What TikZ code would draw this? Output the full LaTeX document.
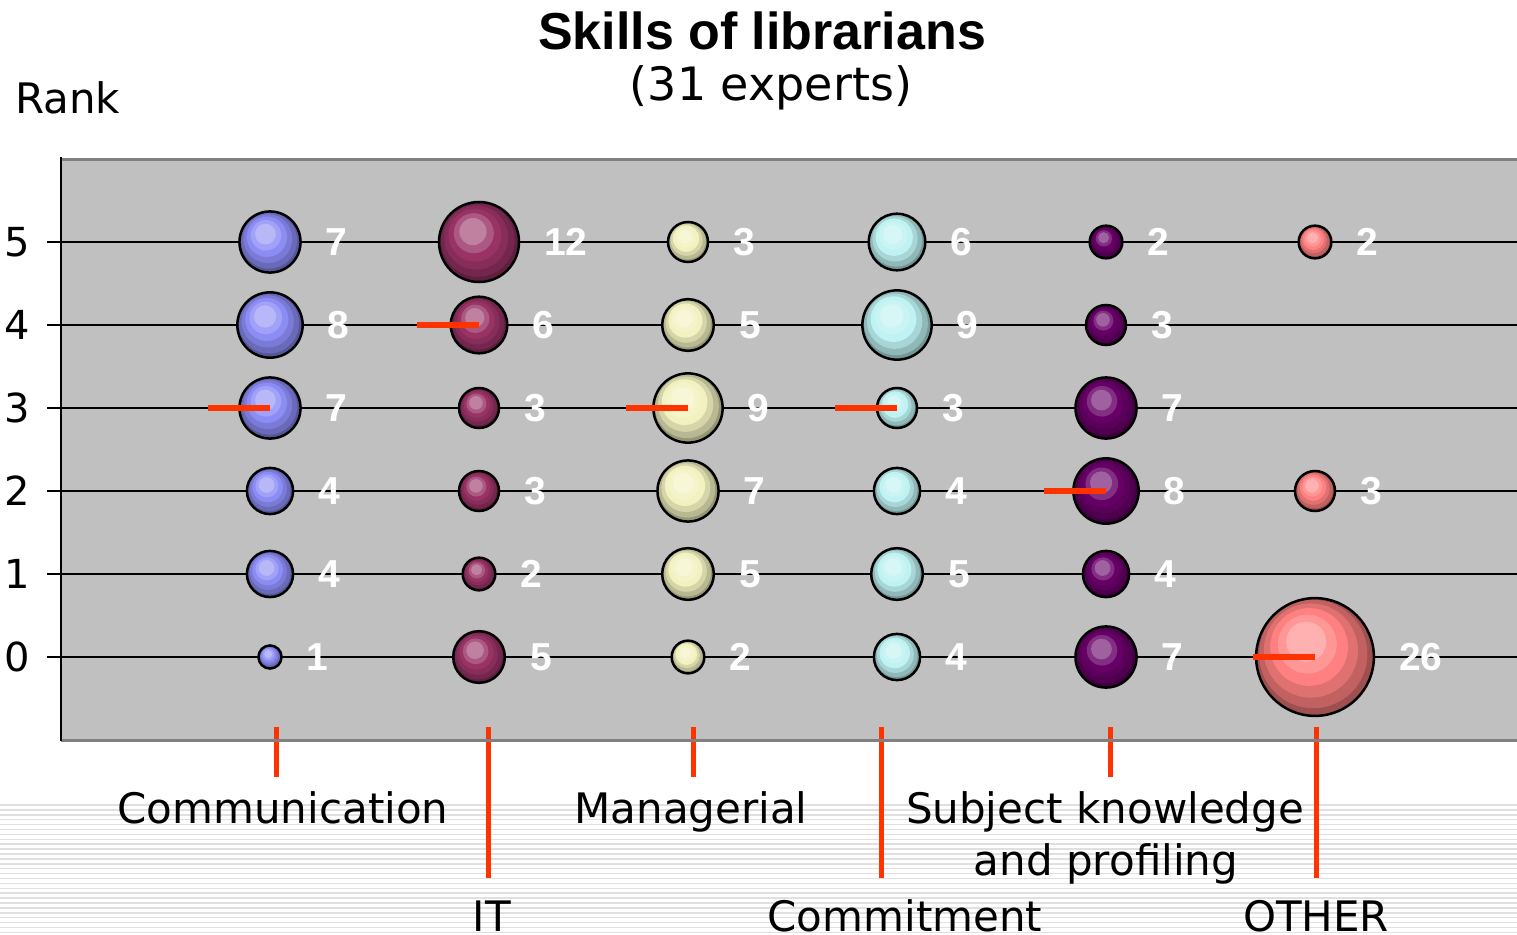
\documentclass[tikz,border=0pt]{standalone}
\usepackage{fontspec}
\setmainfont{DejaVu Sans}
\newfontfamily\arialfont{Liberation Sans}
\definecolor{plotbg}{HTML}{C0C0C0}
\definecolor{framegray}{HTML}{808080}
\definecolor{stripegray}{HTML}{E0E0E0}
\definecolor{medred}{HTML}{FF3300}
\definecolor{cA}{HTML}{8C8CF5}
\definecolor{cB}{HTML}{993366}
\definecolor{cC}{HTML}{F2F2C0}
\definecolor{cD}{HTML}{BFF2F2}
\definecolor{cE}{HTML}{660066}
\definecolor{cF}{HTML}{FF8080}
\tikzset{
  gridline/.style={draw=black, line width=1.3pt},
  medline/.style={draw=medred, line width=6pt},
  catline/.style={draw=medred, line width=5pt},
  catlabel/.style={font=\fontsize{42}{50}\selectfont, anchor=base, inner sep=0pt, align=center},
  numlabel/.style={font=\arialfont\bfseries\fontsize{39}{44}\selectfont, text=white, anchor=west, inner sep=0pt},
  axlabel/.style={font=\fontsize{40}{46}\selectfont, anchor=west, inner sep=0pt},
  bubedge/.style={circle, draw=black, line width=2.5pt, inner sep=0pt, outer sep=0pt},
  stripe/.style={draw=stripegray, line width=1.5pt},
}
\begin{document}
\begin{tikzpicture}[x=1pt,y=-1pt]
\useasboundingbox (0,0) rectangle (1517,934);
% background stripes
\foreach \i in {0,...,26} \draw[stripe] (0,805+\i*4.9) -- (1517,805+\i*4.9);
% plot area
\fill[plotbg] (61,159) rectangle (1517,740);
\foreach \rk in {0,...,5} {
  \draw[gridline] (47,657-83*\rk) -- (1517,657-83*\rk);
  \node[axlabel] (ax\rk) at (4,657-83*\rk) {\rk};
}
% category ticks
\foreach \tx/\ty/\tn in {276/777/A,488/878/B,693/777/C,881/878/D,1110/777/E,1316/878/F}
  \draw[catline] (\tx,727) coordinate (t\tn) -- (\tx,\ty) coordinate (u\tn);
\draw[framegray, line width=3pt] (61,159.5) -- (1517,159.5);
\draw[framegray, line width=3pt] (61,740) -- (1517,740);
\draw[black, line width=2pt] (61,157) -- (61,741);
% bubbles
\foreach \cx/\cc/\cid/\data in {
  270/cA/A/{5/7,4/8,3/7,2/4,1/4,0/1},
  479/cB/B/{5/12,4/6,3/3,2/3,1/2,0/5},
  688/cC/C/{5/3,4/5,3/9,2/7,1/5,0/2},
  897/cD/D/{5/6,4/9,3/3,2/4,1/5,0/4},
  1106/cE/E/{5/2,4/3,3/7,2/8,1/4,0/7},
  1315/cF/F/{5/2,2/3,0/26}}{
  \foreach \rk/\v in \data {
    \pgfmathsetmacro\yy{657-83*\rk}
    \pgfmathsetmacro\rr{11.55*sqrt(\v)}
    \foreach \f/\ox/\oy/\rc in {1/0/0/\cc!62!black, 0.92/0.03/0.05/\cc!76!black,
        0.80/0.07/0.11/\cc!88!black, 0.66/0.10/0.17/\cc, 0.50/0.13/0.22/\cc!82!white,
        0.34/0.15/0.26/\cc!62!white}
      \fill[\rc] (\cx-\ox*\rr, \yy-\oy*\rr) circle[radius=\f*\rr];
    \node[bubedge, minimum size=2*\rr] (b\cid\rk) at (\cx,\yy) {};
    \node[numlabel] (n\cid\rk) at (\cx+\rr+25,\yy) {\v};
  }
}
% medians
\foreach \m in {bA3,bB4,bC3,bD3,bE2,bF0}
  \draw[medline] (\m.center) -- ++(-62,0);
% titles
\node[font=\arialfont\bfseries\fontsize{52}{60}\selectfont, anchor=base, inner sep=0pt] (title) at (762,50) {Skills of librarians};
\node[font=\fontsize{46}{52}\selectfont, anchor=base, inner sep=0pt] (subtitle) at (771,100) {(31 experts)};
\node[font=\fontsize{42}{50}\selectfont, anchor=base west, inner sep=0pt] (rank) at (15,113) {Rank};
% category labels
\node[catlabel] (lA) at (283,823) {Communication};
\node[catlabel] (lC) at (691,823) {Managerial};
\node[catlabel] (lE1) at (1105,823) {Subject knowledge};
\node[catlabel] (lE2) at (1106,875) {and profiling};
\node[catlabel] (lB) at (492,931) {IT};
\node[catlabel] (lD) at (905,931) {Commitment};
\node[catlabel] (lF) at (1316,931) {OTHER};
\end{tikzpicture}
\end{document}
